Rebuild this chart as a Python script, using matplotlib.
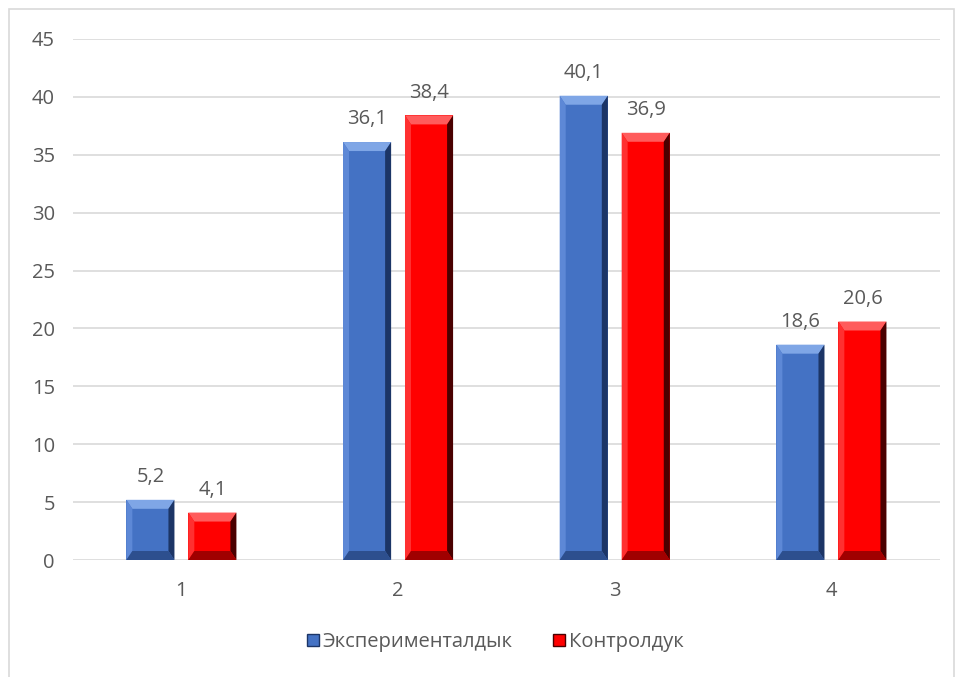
import matplotlib.pyplot as plt
from matplotlib.patches import Polygon, Rectangle
import numpy as np

plt.rcParams['font.family'] = ['Open Sans', 'DejaVu Sans']

# data
categories = ['1', '2', '3', '4']
experimental = [5.2, 36.1, 40.1, 18.6]
control = [4.1, 38.4, 36.9, 20.6]
series_names = ['Эксперименталдык', 'Контролдук']

text_color = '#595959'
grid_color = '#d9d9d9'
fs = 14.5

fig = plt.figure(figsize=(9.56, 6.77), dpi=100)
ax = fig.add_axes([0.0764, 0.1728, 0.9066, 0.7696])

x = np.arange(len(categories))
w = 0.222
off = 0.143

# body / top / left / right / bottom shades for the bevelled look
shades = {
    'blue': ['#4472c4', '#7fa6e6', '#5d88d6', '#1c3566', '#2d4f8e'],
    'red': ['#ff0000', '#ff5c5c', '#ff3030', '#4a0000', '#a00000'],
}

ax.set_xlim(-0.5, 3.5)
ax.set_ylim(0, 45)
ax.set_yticks(np.arange(0, 46, 5))
ax.set_xticks(x)
ax.set_xticklabels(categories)
ax.yaxis.grid(True, color=grid_color, lw=1.2)
ax.set_axisbelow(True)
for s in ax.spines.values():
    s.set_visible(False)
ax.tick_params(length=0, colors=text_color, labelsize=fs)
ax.tick_params(axis='y', pad=13)
ax.tick_params(axis='x', pad=15)

# pixel -> data conversion for bevel size
bw_px = 0.9066 * 956
bh_px = 0.7696 * 677
dx = 6 * 4.0 / bw_px
dy = 9 * 45.0 / bh_px


def bevel_bars(xs, vals, key):
    c = shades[key]
    bars = ax.bar(xs, vals, w, color=c[0], zorder=2)
    for b in bars:
        x0, y0 = b.get_x(), b.get_y()
        x1, y1 = x0 + b.get_width(), y0 + b.get_height()
        ddy = min(dy, (y1 - y0) / 2)
        faces = [
            ([(x0, y1), (x1, y1), (x1 - dx, y1 - ddy), (x0 + dx, y1 - ddy)], c[1]),
            ([(x0, y0), (x0, y1), (x0 + dx, y1 - ddy), (x0 + dx, y0 + ddy)], c[2]),
            ([(x1, y0), (x1, y1), (x1 - dx, y1 - ddy), (x1 - dx, y0 + ddy)], c[3]),
            ([(x0, y0), (x1, y0), (x1 - dx, y0 + ddy), (x0 + dx, y0 + ddy)], c[4]),
        ]
        for pts, col in faces:
            ax.add_patch(Polygon(pts, closed=True, facecolor=col, edgecolor='none', zorder=3))
    return bars


bars_e = bevel_bars(x - off, experimental, 'blue')
bars_c = bevel_bars(x + off, control, 'red')

for bars, vals in ((bars_e, experimental), (bars_c, control)):
    for b, v in zip(bars, vals):
        ax.text(b.get_x() + b.get_width() / 2, v + 1.1, f'{v:.1f}'.replace('.', ','),
                ha='center', va='bottom', fontsize=fs, color=text_color)

# legend
handles = [Rectangle((0, 0), 1, 1, facecolor=shades['blue'][0], edgecolor=shades['blue'][3]),
           Rectangle((0, 0), 1, 1, facecolor=shades['red'][0], edgecolor=shades['red'][3])]
fig.legend(handles, series_names, loc='center', bbox_to_anchor=(0.518, 1 - 642 / 677),
           ncol=2, frameon=False, fontsize=fs, labelcolor=text_color,
           handlelength=0.6, handleheight=0.6, handletextpad=0.2, columnspacing=2.0)

# chart border
fig.add_artist(Rectangle((9 / 956, -0.01), 946 / 956 - 0.001, 1 - 9 / 677 + 0.01,
                         transform=fig.transFigure, fill=False, edgecolor='#d9d9d9', lw=1.2))

fig.savefig('out.png', dpi=100)
